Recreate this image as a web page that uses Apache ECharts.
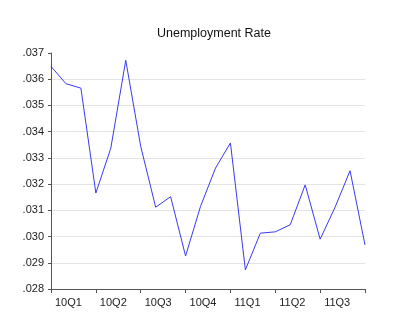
<!DOCTYPE html>
<html>
<head>
<meta charset="utf-8">
<script src="https://cdn.jsdelivr.net/npm/echarts@6/dist/echarts.min.js"></script>
<style>html,body{margin:0;padding:0;background:#fff;}#c{width:400px;height:329px;}</style>
</head>
<body>
<div id="c"></div>
<script>
var months = ['2010M01','2010M02','2010M03','2010M04','2010M05','2010M06','2010M07','2010M08','2010M09','2010M10','2010M11','2010M12',
              '2011M01','2011M02','2011M03','2011M04','2011M05','2011M06','2011M07','2011M08','2011M09','2011M10'];
var quarterLabels = ['10Q1','10Q2','10Q3','10Q4','11Q1','11Q2','11Q3'];
var unemployment = [0.03649,0.03583,0.03566,0.03166,0.03337,0.03672,0.03344,0.03112,0.03152,0.02926,0.03115,0.03261,
                    0.03357,0.02873,0.03013,0.03018,0.03045,0.03197,0.02990,0.03112,0.03251,0.02968];
var yMin = 0.028, yMax = 0.037, yStep = 0.001;

var chart = echarts.init(document.getElementById('c'));
chart.setOption({
  animation: false,
  backgroundColor: '#fff',
  title: {
    text: 'Unemployment Rate', left: 152, top: 22,
    textStyle: {fontFamily: 'Liberation Sans, Arial, sans-serif', fontSize: 12.5, fontWeight: 'normal', color: '#111'}
  },
  grid: {left: 51, right: 35, top: 53, bottom: 40, containLabel: false},
  xAxis: {
    type: 'category', data: months, boundaryGap: false,
    axisLine: {lineStyle: {color: '#555', width: 1}},
    axisTick: {length: 4, interval: function (i) { return i % 3 === 0; }, lineStyle: {color: '#555'}},
    axisLabel: {
      interval: function (i) { return i % 3 === 0 && i / 3 < quarterLabels.length; },
      formatter: function (v, i) { return quarterLabels[i / 3] || ''; },
      align: 'left', padding: [0, 0, 0, 4], margin: 8,
      fontFamily: 'Liberation Sans, Arial, sans-serif', fontSize: 11, color: '#222'
    },
    splitLine: {show: false}
  },
  yAxis: {
    type: 'value', min: yMin, max: yMax, interval: yStep,
    axisLine: {show: true, lineStyle: {color: '#555', width: 1}},
    axisTick: {show: true, length: 3, lineStyle: {color: '#555'}},
    axisLabel: {
      formatter: function (v) { return v.toFixed(3).replace(/^0/, ''); },
      margin: 7, fontFamily: 'Liberation Sans, Arial, sans-serif', fontSize: 11, color: '#222'
    },
    splitLine: {show: true, showMaxLine: false, lineStyle: {color: '#e4e4e4', width: 1}}
  },
  series: [{
    type: 'line', data: unemployment, symbol: 'none',
    lineStyle: {color: '#3a3af0', width: 1}
  }]
});
</script>
</body>
</html>
